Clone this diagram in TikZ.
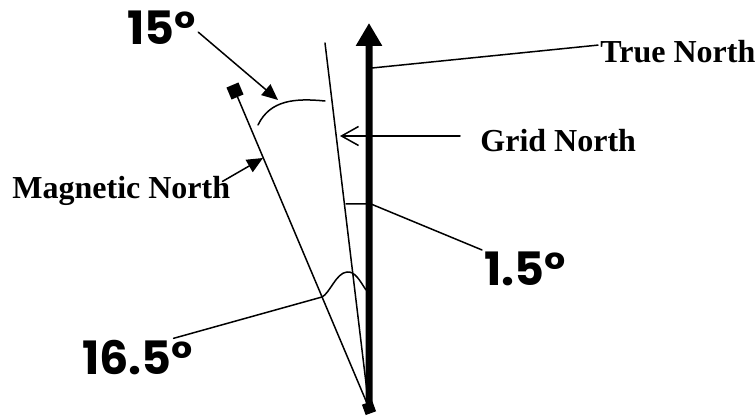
\documentclass[tikz,border=0pt]{standalone}
\usepackage{fontspec}
\setmainfont{Liberation Serif}
\newfontfamily\degfont{Poppins}
\usetikzlibrary{arrows.meta,calc}

\begin{document}
\begin{tikzpicture}[
  x=0.5pt,
  y=-0.5pt,
  line cap=round,
  line join=round,
  leader/.style={
    draw=black,
    line width=0.75pt
  },
  pointer/.style={
    leader,
    -{Triangle[length=8pt,width=7pt]}
  },
  openpointer/.style={
    leader,
    -{Straight Barb[length=8.5pt,width=9.5pt]}
  },
  northline/.style={
    draw=black,
    line width=3.5pt,
    -{Triangle[length=11.5pt,width=12.5pt]}
  },
  bearing/.style={
    font=\bfseries\fontsize{16}{18}\selectfont,
    inner sep=1pt,
    anchor=base west
  },
  angletext/.style={
    font=\degfont\bfseries\fontsize{23}{26}\selectfont,
    inner sep=1pt,
    anchor=base west
  },
  endmark/.style={
    fill=black,
    inner sep=0pt,
    minimum size=5.5pt
  }
]
\useasboundingbox (0,0) rectangle (756,416);

% ---------------------------------------------------------------------------
% The three north lines, all meeting at the foot.
% ---------------------------------------------------------------------------
\node[endmark,rotate=20] (foot) at (369,408) {};
\node[endmark,rotate=23,minimum size=6.5pt] (magend) at (235,91) {};
\coordinate (truetip) at (369,23);
\coordinate (gridtop) at (325,43);

\draw[leader] (magend) -- (foot);
\draw[leader] (gridtop) -- (foot);
\draw[northline] (foot) -- (truetip);

% Labels.
\node[bearing] (truenorth) at (598,63) {True North};
\node[bearing] (gridnorth) at (478,152) {Grid North};
\node[bearing] (magnorth) at (10,199) {Magnetic North};

\node[angletext] (angle15) at (125,45) {15°};
\node[angletext] (angle1p5) at (482,286) {1.5°};
\node[angletext] (angle165) at (80,375) {16.5°};

% Label pointers.
\coordinate (truefoot) at (372,68);
\draw[leader] (truefoot) -- (truenorth.175);

\coordinate (gridtip) at (340,136);
\draw[openpointer,shorten <=9pt] (gridnorth.west |- gridtip) -- (gridtip);

\coordinate (magtip) at (263,158);
\draw[pointer] ($(magnorth.north east)+(-10,7)$) -- (magtip);

% ---------------------------------------------------------------------------
% Angle marks.
% ---------------------------------------------------------------------------
% 15 deg: magnetic to grid.
\coordinate (arctip) at (278,100);
\draw[leader] (258,125) .. controls (270,100) and (295,98) .. (325,101);
\draw[pointer] ($(angle15.east)+(0,4)$) -- (arctip);

% 1.5 deg: grid to true.
\coordinate (ticktail) at (346,204);
\coordinate (tickbend) at (371,204);
\draw[leader] (ticktail) -- (tickbend) -- (angle1p5.north west);

% 16.5 deg: magnetic to true.
\draw[leader] ($(angle165.north east)+(-22,0)$) -- (322,297)
  .. controls (330,293) and (336,273) .. (347,272)
  .. controls (355,271) and (360,281) .. (366,290);

\end{tikzpicture}
\end{document}
